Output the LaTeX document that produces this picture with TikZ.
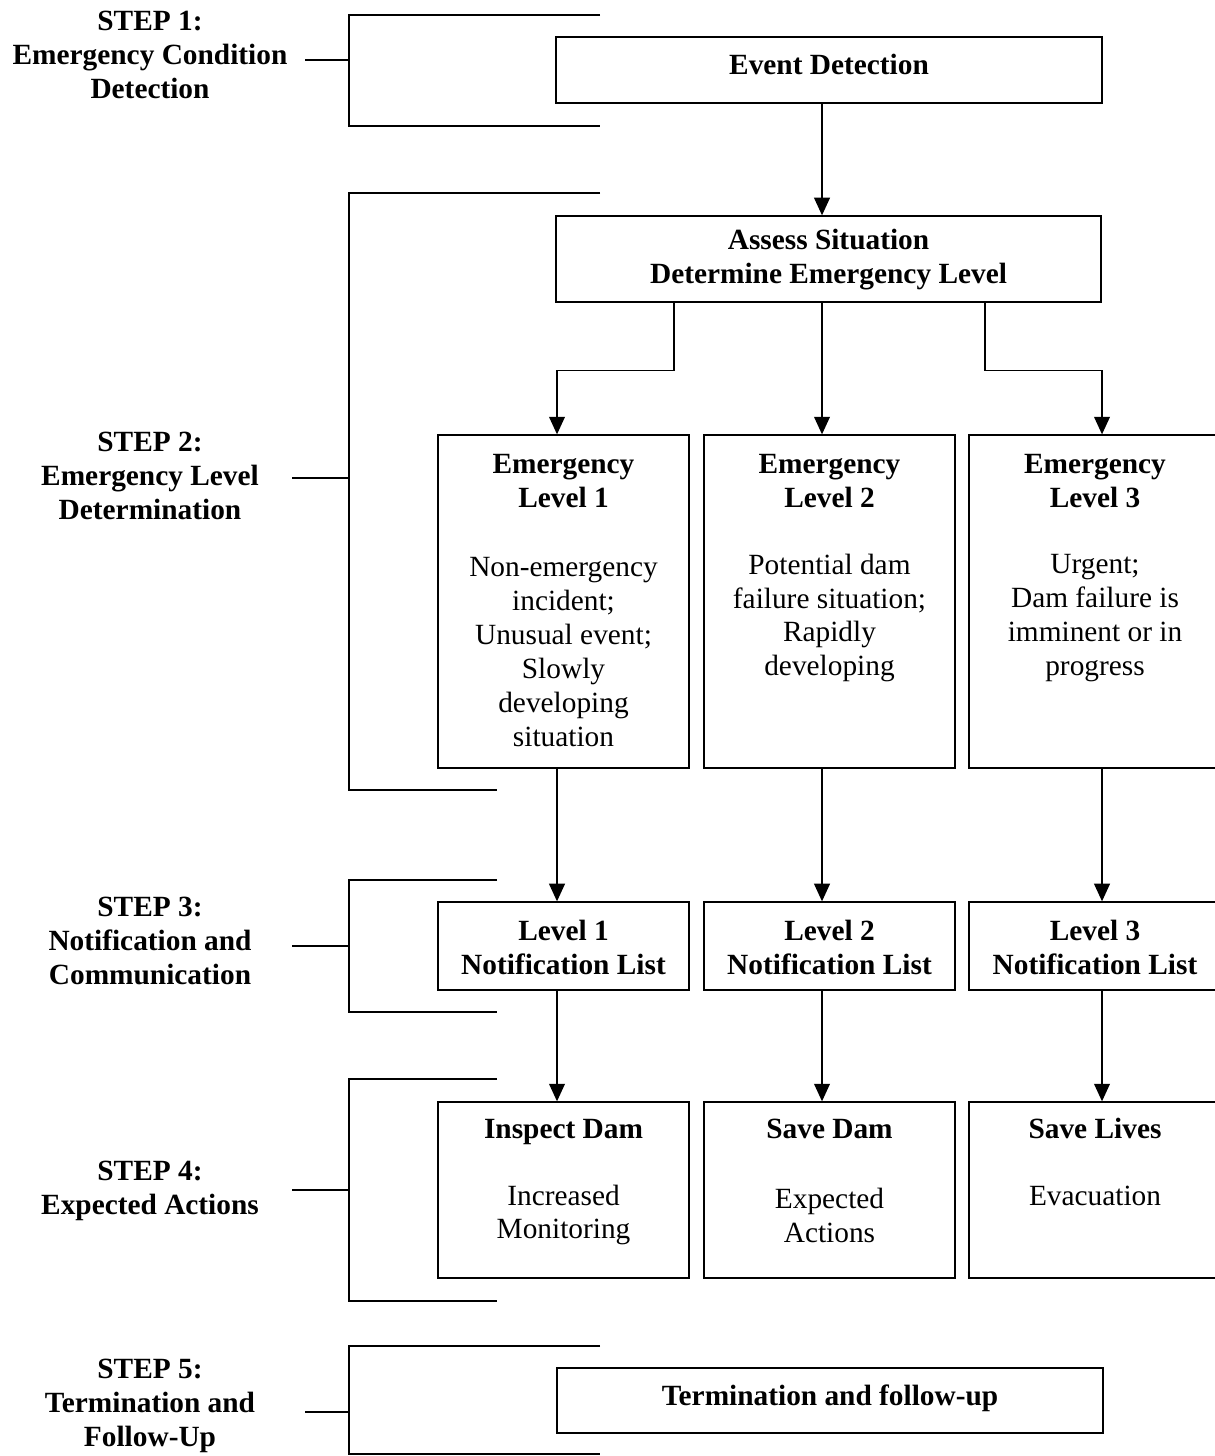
\documentclass[tikz,border=0pt]{standalone}
\usepackage{fontspec}
\setmainfont{Liberation Serif}
\usetikzlibrary{arrows.meta}
\begin{document}
\begin{tikzpicture}[x=0.02cm,y=-0.02cm, line width=0.8pt,
  box/.style={draw, inner sep=0pt},
  txt/.style={align=center, font=\fontsize{16.7}{19.3}\selectfont, inner sep=0pt},
  btxt/.style={align=center, font=\fontsize{16.7}{19.3}\selectfont\bfseries, inner sep=0pt},
  one/.style={text height=11.5pt, text depth=3.5pt},
  arr/.style={-{Triangle[length=10pt,width=9pt]}}]
\useasboundingbox (0,0) rectangle (1214,1456);

% ---------- boxes ----------
\node[box, minimum width=10.92cm, minimum height=1.32cm] (ev) at (829,70) {};
\node[btxt, one] (evt) at (829,67) {Event Detection};

\node[box, minimum width=10.9cm, minimum height=1.72cm] (as) at (828.5,259) {};
\node[btxt] (ast) at (828.5,260) {Assess Situation\\Determine Emergency Level};

\node[box, minimum width=5.02cm, minimum height=6.66cm] (e1) at (563.5,601.5) {};
\node[box, minimum width=5.02cm, minimum height=6.66cm] (e2) at (829.5,601.5) {};
\node[box, minimum width=5.04cm, minimum height=6.66cm] (e3) at (1095,601.5) {};
\node[btxt] (e1t) at (563.5,481) {Emergency\\Level 1};
\node[btxt] (e2t) at (829.5,481) {Emergency\\Level 2};
\node[btxt] (e3t) at (1095,481) {Emergency\\Level 3};
\node[txt] (e1b) at (563.5,652) {Non-emergency\\incident;\\Unusual event;\\Slowly\\developing\\situation};
\node[txt] (e2b) at (829.5,618) {Potential dam\\failure situation;\\Rapidly\\developing};
\node[txt] (e3b) at (1095,618) {Urgent;\\Dam failure is\\imminent or in\\progress};

\node[box, minimum width=5.02cm, minimum height=1.76cm] (n1) at (563.5,946) {};
\node[box, minimum width=5.02cm, minimum height=1.76cm] (n2) at (829.5,946) {};
\node[box, minimum width=5.04cm, minimum height=1.76cm] (n3) at (1095,946) {};
\node[btxt] (n1t) at (563.5,947) {Level 1\\Notification List};
\node[btxt] (n2t) at (829.5,947) {Level 2\\Notification List};
\node[btxt] (n3t) at (1095,947) {Level 3\\Notification List};

\node[box, minimum width=5.02cm, minimum height=3.52cm] (a1) at (563.5,1190) {};
\node[box, minimum width=5.02cm, minimum height=3.52cm] (a2) at (829.5,1190) {};
\node[box, minimum width=5.04cm, minimum height=3.52cm] (a3) at (1095,1190) {};
\node[btxt, one] (a1t) at (563.5,1131) {Inspect Dam};
\node[btxt, one] (a2t) at (829.5,1131) {Save Dam};
\node[btxt, one] (a3t) at (1095,1131) {Save Lives};
\node[txt] (a1b) at (563.5,1215) {Increased\\Monitoring};
\node[txt] (a2b) at (829.5,1215) {Expected\\Actions};
\node[txt, one] (a3b) at (1095,1198) {Evacuation};

\node[box, minimum width=10.92cm, minimum height=1.3cm] (tf) at (830,1400.5) {};
\node[btxt, one] (tft) at (830,1398) {Termination and follow-up};

% ---------- connectors ----------
\coordinate (x1) at (557,0);
\coordinate (x2) at (822,0);
\coordinate (x3) at (1102,0);
\coordinate (c1) at (674,302);
\coordinate (c3) at (985,302);
\draw[arr] (ev.south -| x2) -- (as.north -| x2);
\draw[arr] (as.south -| c1) -- ++(0,68) -| (e1.north -| x1);
\draw[arr] (as.south -| x2) -- (e2.north -| x2);
\draw[arr] (as.south -| c3) -- ++(0,68) -| (e3.north -| x3);
\draw[arr] (e1.south -| x1) -- (n1.north -| x1);
\draw[arr] (e2.south -| x2) -- (n2.north -| x2);
\draw[arr] (e3.south -| x3) -- (n3.north -| x3);
\draw[arr] (n1.south -| x1) -- (a1.north -| x1);
\draw[arr] (n2.south -| x2) -- (a2.north -| x2);
\draw[arr] (n3.south -| x3) -- (a3.north -| x3);

% ---------- step labels ----------
\node[btxt] (s1) at (150,55) {STEP 1:\\Emergency Condition\\Detection};
\node[btxt] (s2) at (150,476) {STEP 2:\\Emergency Level\\Determination};
\node[btxt] (s3) at (150,941) {STEP 3:\\Notification and\\Communication};
\node[btxt] (s4) at (150,1191) {STEP 4:\\Expected Actions};
\node[btxt] (s5) at (150,1406) {STEP 5:\\Termination and\\Follow-Up};

% ---------- brackets ----------
\coordinate (b1) at (349,60);
\coordinate (b2) at (349,478);
\coordinate (b3) at (349,946);
\coordinate (b4) at (349,1190);
\coordinate (b5) at (349,1412);
\draw (600,15) -- (349,15) -- (349,126) -- (600,126);
\draw (305,60) -- (b1);
\draw (600,193) -- (349,193) -- (349,790) -- (497,790);
\draw (292,478) -- (b2);
\draw (497,880) -- (349,880) -- (349,1012) -- (497,1012);
\draw (292,946) -- (b3);
\draw (497,1079) -- (349,1079) -- (349,1301) -- (497,1301);
\draw (292,1190) -- (b4);
\draw (600,1346) -- (349,1346) -- (349,1454) -- (600,1454);
\draw (305,1412) -- (b5);
\end{tikzpicture}
\end{document}
